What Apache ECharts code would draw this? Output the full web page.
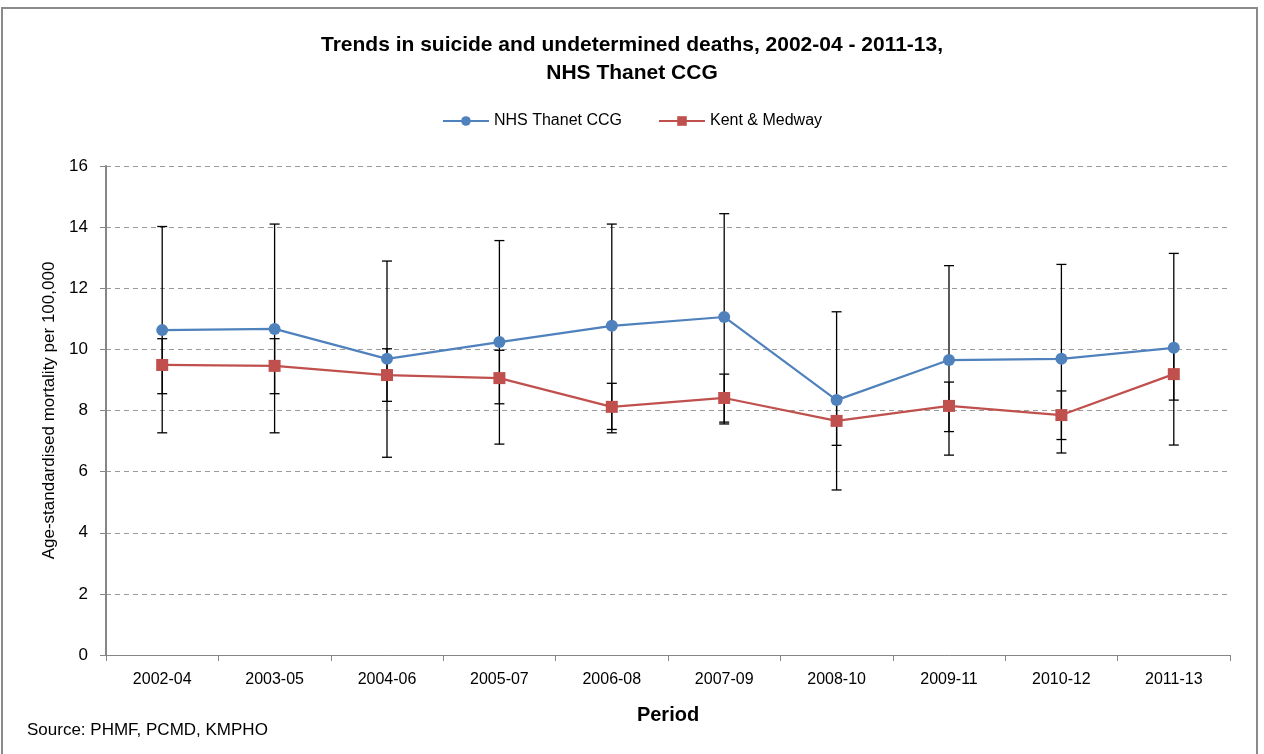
<!DOCTYPE html>
<html>
<head>
<meta charset="utf-8">
<script src="https://cdn.jsdelivr.net/npm/echarts@6/dist/echarts.min.js"></script>
<style>
html,body{margin:0;padding:0;background:#fff;}
#chart{width:1264px;height:754px;}
</style>
</head>
<body>
<div id="chart"></div>
<script>
var categories = ['2002-04','2003-05','2004-06','2005-07','2006-08','2007-09','2008-10','2009-11','2010-12','2011-13'];
var thanet = [10.63, 10.67, 9.69, 10.24, 10.77, 11.06, 8.34, 9.65, 9.69, 10.05];
var thanetLower = [7.27, 7.27, 6.47, 6.90, 7.27, 7.56, 5.40, 6.54, 6.61, 6.87];
var thanetUpper = [14.02, 14.10, 12.89, 13.56, 14.10, 14.44, 11.23, 12.74, 12.78, 13.14];
var kent = [9.49, 9.46, 9.16, 9.06, 8.12, 8.41, 7.66, 8.15, 7.85, 9.19];
var kentLower = [8.55, 8.55, 8.30, 8.22, 7.38, 7.62, 6.86, 7.31, 7.05, 8.34];
var kentUpper = [10.35, 10.35, 10.02, 9.97, 8.89, 9.19, 8.45, 8.93, 8.64, 10.02];
var yTicks = [0, 2, 4, 6, 8, 10, 12, 14, 16];

var FONT = "'Liberation Sans', 'DejaVu Sans', sans-serif";

function errData(lo, hi) {
  return categories.map(function (c, i) { return [i, lo[i], hi[i]]; });
}
function errRender(params, api) {
  var x = api.value(0);
  var lo = api.coord([x, api.value(1)]);
  var hi = api.coord([x, api.value(2)]);
  var cap = 5;
  var st = { stroke: '#000', lineWidth: 1.3 };
  return {
    type: 'group',
    children: [
      { type: 'line', shape: { x1: lo[0], y1: lo[1], x2: hi[0], y2: hi[1] }, style: st },
      { type: 'line', shape: { x1: lo[0] - cap, y1: lo[1], x2: lo[0] + cap, y2: lo[1] }, style: st },
      { type: 'line', shape: { x1: hi[0] - cap, y1: hi[1], x2: hi[0] + cap, y2: hi[1] }, style: st }
    ]
  };
}

var chart = echarts.init(document.getElementById('chart'), null, { renderer: 'canvas' });
chart.setOption({
  backgroundColor: '#fff',
  animation: false,
  textStyle: { fontFamily: FONT },
  graphic: [
    { type: 'rect', shape: { x: 2, y: 8, width: 1255, height: 760 }, style: { fill: 'none', stroke: '#8a8a8a', lineWidth: 2 }, silent: true },
    { type: 'text', left: 27, top: 722, style: { text: 'Source: PHMF, PCMD, KMPHO', font: "17px " + FONT, fill: '#000' } }
  ],
  title: {
    text: 'Trends in suicide and undetermined deaths, 2002-04 - 2011-13,\nNHS Thanet CCG',
    left: 'center',
    top: 26,
    textStyle: { fontFamily: FONT, fontWeight: 'bold', fontSize: 21, lineHeight: 28, color: '#000' }
  },
  legend: {
    top: 108,
    left: 'center',
    itemWidth: 46,
    itemHeight: 12,
    itemGap: 36,
    textStyle: { fontFamily: FONT, fontSize: 16, color: '#000' },
    data: ['NHS Thanet CCG', 'Kent & Medway']
  },
  grid: { left: 106, right: 34, top: 166, bottom: 99, containLabel: false },
  xAxis: {
    type: 'category',
    data: categories,
    boundaryGap: true,
    name: 'Period',
    nameLocation: 'middle',
    nameGap: 50,
    nameTextStyle: { fontFamily: FONT, fontWeight: 'bold', fontSize: 20, color: '#000' },
    axisLine: { lineStyle: { color: '#868686', width: 1 } },
    axisTick: { show: true, interval: 0, length: 6, lineStyle: { color: '#868686' } },
    axisLabel: { fontFamily: FONT, fontSize: 16, color: '#000', margin: 17, interval: 0 }
  },
  yAxis: {
    type: 'value',
    min: 0,
    max: 16,
    interval: 2,
    name: 'Age-standardised mortality per 100,000',
    nameLocation: 'middle',
    nameGap: 47,
    nameTextStyle: { fontFamily: FONT, fontSize: 17, color: '#000' },
    axisLine: { show: true, lineStyle: { color: '#868686', width: 2 } },
    axisTick: { show: true, length: 6, lineStyle: { color: '#868686' } },
    axisLabel: { fontFamily: FONT, fontSize: 17, color: '#000', margin: 18 },
    splitLine: { show: true, lineStyle: { color: '#9a9a9a', type: [5, 4], width: 1 } }
  },
  series: [
    {
      name: 'Thanet error', type: 'custom', renderItem: errRender, data: errData(thanetLower, thanetUpper),
      encode: { x: 0, y: [1, 2] }, z: 1, silent: true
    },
    {
      name: 'Kent error', type: 'custom', renderItem: errRender, data: errData(kentLower, kentUpper),
      encode: { x: 0, y: [1, 2] }, z: 1, silent: true
    },
    {
      name: 'NHS Thanet CCG', type: 'line', data: thanet, z: 3,
      symbol: 'circle', symbolSize: 12,
      itemStyle: { color: '#4F81BD' },
      lineStyle: { color: '#4F81BD', width: 2.2 }
    },
    {
      name: 'Kent & Medway', type: 'line', data: kent, z: 3,
      symbol: 'rect', symbolSize: 12,
      itemStyle: { color: '#C0504D' },
      lineStyle: { color: '#C0504D', width: 2.2 }
    }
  ]
});
</script>
</body>
</html>
